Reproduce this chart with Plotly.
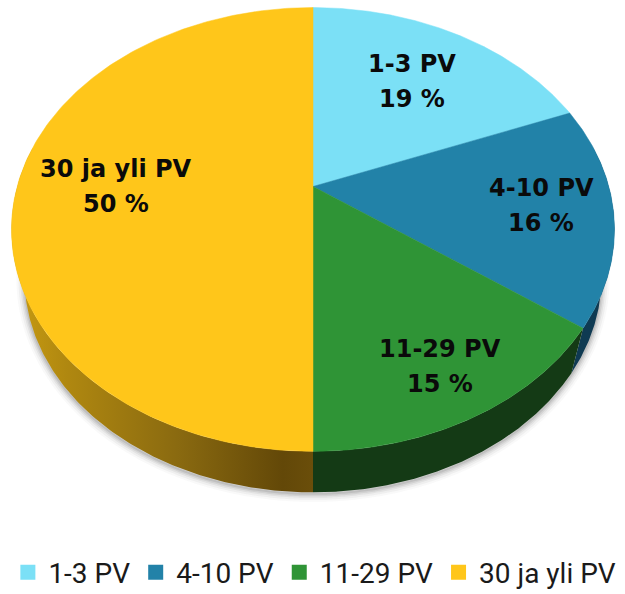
import numpy as np
import plotly.graph_objects as go

categories = ["1-3 PV", "4-10 PV", "11-29 PV", "30 ja yli PV"]
shares = [19, 16, 15, 50]
top_colors = ["#7BE0F6", "#2282A8", "#2F9436", "#FFC61A"]
side_colors = ["#3a6f7c", "#0F3A52", "#143A15", None]
label_centres = [(412, 64), (541, 188), (440, 349), (116, 169)]

W, H = 625, 594
CX, CY = 313, 186.5
K = 0.1935
A, B = 295.8, 213.6
SX, SY, Y2 = 0.957, 0.968, 236.0
DEPTH_STEPS = 160


def rim(frac):
    t = 2 * np.pi * np.asarray(frac, dtype=float)
    u, v = np.sin(t), np.cos(t)
    d = 1 + K * v
    return CX + A * u / d, CY - B * v / d


def low(frac):
    x, y = rim(frac)
    return CX + SX * (x - CX), Y2 + SY * (y - CY)


fig = go.Figure()

# soft shadow under the near edge of the disc
sf = np.linspace(0.27, 0.73, 200)
sx, sy = low(sf)
for width, alpha in [(16, 0.03), (12, 0.05), (8, 0.07), (5, 0.09), (2, 0.12)]:
    fig.add_trace(go.Scatter(x=sx + 0.0, y=sy + 1.5, mode="lines", showlegend=False, hoverinfo="skip",
                             line=dict(color=f"rgba(60,60,60,{alpha})", width=width, shape="spline")))

bounds = np.concatenate([[0], np.cumsum(shares)]) / sum(shares)

# side wall
for i in range(len(shares)):
    a, b = bounds[i], bounds[i + 1]
    if b <= 0.25:
        continue
    if i == len(shares) - 1:
        b = 0.78
    f = np.linspace(max(a, 0.22), b, DEPTH_STEPS)
    x1, y1 = rim(f)
    x2, y2 = low(f[::-1])
    x = np.concatenate([x1, x2, x1[:1]])
    y = np.concatenate([y1, y2, y1[:1]])
    if side_colors[i] is None:
        kw = dict(fillgradient=dict(type="horizontal", colorscale=[
            [0, "#C99C12"], [0.18, "#B08810"], [0.55, "#8A6A10"], [0.9, "#634808"], [1, "#6A4E0A"]]))
    else:
        kw = dict(fillcolor=side_colors[i])
    fig.add_trace(go.Scatter(x=x, y=y, mode="lines", fill="toself", showlegend=False, hoverinfo="skip",
                             line=dict(width=0), **kw))

# top face
for i, (cat, col) in enumerate(zip(categories, top_colors)):
    f = np.linspace(bounds[i], bounds[i + 1], 200)
    x, y = rim(f)
    x = np.concatenate([[CX], x, [CX]])
    y = np.concatenate([[CY], y, [CY]])
    fig.add_trace(go.Scatter(x=x, y=y, mode="lines", fill="toself", fillcolor=col, showlegend=False,
                             line=dict(width=0.5, color=col), name=cat,
                             hovertemplate=f"{cat}: {shares[i]} %<extra></extra>"))

# legend entries
for cat, col in zip(categories, top_colors):
    fig.add_trace(go.Scatter(x=[None], y=[None], mode="markers", name=cat,
                             marker=dict(symbol="square", size=15, color=col)))

for (cat, val, (lx, ly)) in zip(categories, shares, label_centres):
    for text, yy in [(cat, ly), (f"{val} %", ly + 35)]:
        fig.add_annotation(x=lx, y=yy, xref="x", yref="y", text=f"<b>{text}</b>", showarrow=False,
                           xanchor="center", yanchor="middle",
                           font=dict(family="DejaVu Sans", size=24, color="#0a0a0a"))

fig.update_layout(
    width=W, height=H, margin=dict(l=0, r=0, t=0, b=0, autoexpand=False),
    paper_bgcolor="white", plot_bgcolor="white",
    xaxis=dict(range=[0, W], visible=False, fixedrange=True),
    yaxis=dict(range=[H, 0], visible=False, fixedrange=True),
    legend=dict(orientation="h", x=0.503, xanchor="center", y=-0.006, yanchor="bottom",
                font=dict(family="Roboto", size=28, color="#1a1a1a"),
                itemwidth=31, tracegroupgap=0, bgcolor="rgba(0,0,0,0)"),
)

fig.write_html("out.html", config={"displayModeBar": False},
               post_script="document.body.style.margin='0';document.body.style.overflow='hidden';")
